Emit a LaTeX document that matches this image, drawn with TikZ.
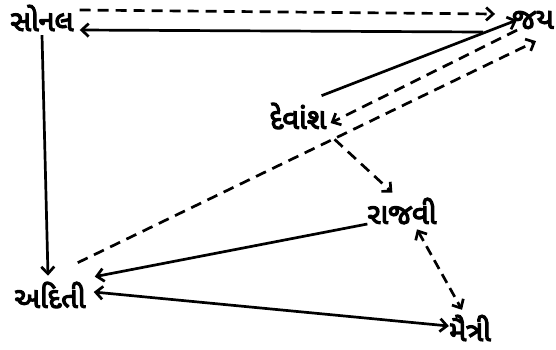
\documentclass[tikz,border=0pt]{standalone}
\usepackage{fontspec}
\newfontfamily\gujfont[Script=Gujarati,AutoFakeBold=4]{Noto Sans Gujarati UI}
\usepackage{tikz}
\usetikzlibrary{arrows.meta,positioning,calc}
\tikzset{
  person/.style={inner sep=0pt,font=\gujfont\bfseries\fontsize{29}{32}\selectfont,text=black},
  relarrow/.style={-{Straight Barb[length=7pt,width=13pt,line width=2.7pt]},line width=2.7pt,black},
  dasharrow/.style={relarrow,dash pattern=on 11pt off 7pt},
  biarrow/.style={{Straight Barb[length=7pt,width=13pt,line width=2.7pt]}-{Straight Barb[length=7pt,width=13pt,line width=2.7pt]},line width=2.7pt,black},
  dashbiarrow/.style={biarrow,dash pattern=on 10pt off 6pt},
}
\begin{document}
\begin{tikzpicture}[x=1pt,y=-1pt]
  \useasboundingbox[fill=white] (0,0) rectangle (556,349);
  \node[person] (sonal) at (42,18) {સોનલ};
  \node[person] (jay) at (533,20) {જય};
  \node[person] (devansh) at (298,116) {દેવાંશ};
  \node[person] (rajvi) at (402,211) {રાજવી};
  \node[person] (aditi) at (50,295) {અદિતી};
  \node[person] (maitri) at (470,328) {મૈત્રી};
  \draw[dasharrow] ([xshift=6pt,yshift=8pt]sonal.east) -- ([xshift=-17pt,yshift=6pt]jay.west);
  \draw[relarrow] ([xshift=-29pt,yshift=-12pt]jay.west) -- ([xshift=6pt,yshift=-12pt]sonal.east);
  \draw[relarrow] ([yshift=-4pt]sonal.south) -- ([xshift=-2pt,yshift=6pt]aditi.north);
  \draw[relarrow] ([xshift=-5pt,yshift=7pt]devansh.north east) -- ([xshift=5pt]jay.west);
  \draw[dasharrow] ([xshift=5pt,yshift=-1pt]jay.south west) -- ([xshift=4pt,yshift=-7pt]devansh.east);
  \draw[dasharrow] ([xshift=-8pt,yshift=19pt]aditi.north east) -- ([xshift=3pt,yshift=-12pt]jay.south);
  \draw[dasharrow] ([xshift=8pt,yshift=-10pt]devansh.south east) -- ([xshift=25pt,yshift=5pt]rajvi.north west);
  \draw[relarrow] ([yshift=-13pt]rajvi.west) -- ([xshift=9pt,yshift=5pt]aditi.north east);
  \draw[biarrow] ([xshift=8pt,yshift=3pt]aditi.east) -- ([yshift=2pt]maitri.west);
  \draw[dashbiarrow] ([xshift=15pt,yshift=-5pt]rajvi.south) -- ([xshift=-8pt,yshift=5pt]maitri.north);
\end{tikzpicture}
\end{document}
